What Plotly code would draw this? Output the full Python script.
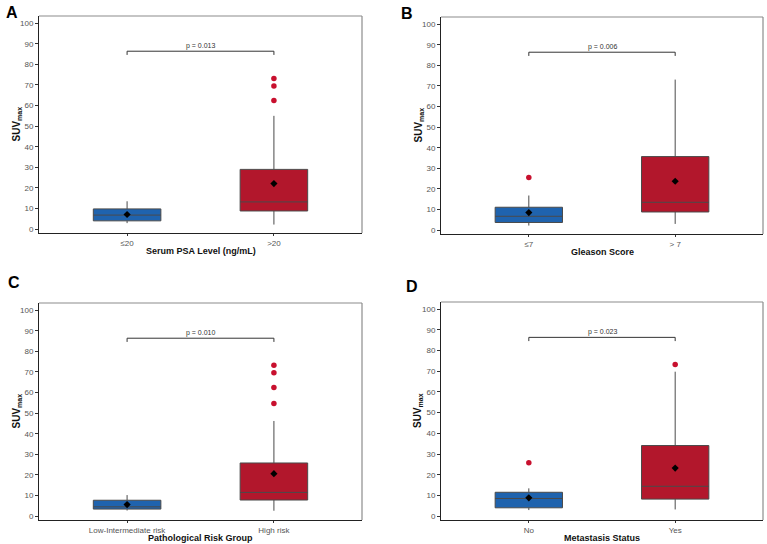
import plotly.graph_objects as go

# ---------------- data ----------------
panel_letters = ["A", "B", "C", "D"]
x_titles = ["Serum PSA Level (ng/mL)", "Gleason Score", "Pathological Risk Group", "Metastasis Status"]
categories = [["≤20", ">20"], ["≤7", "> 7"], ["Low-Intermediate risk", "High risk"], ["No", "Yes"]]
q1_vals = [[4.0, 8.8], [3.7, 8.8], [3.4, 7.8], [4.0, 8.2]]
median_vals = [[6.8, 13.2], [6.7, 13.5], [4.5, 11.5], [8.5, 14.4]]
q3_vals = [[9.8, 29.0], [11.1, 35.7], [7.7, 25.8], [11.5, 34.1]]
lower_whisker = [[2.9, 2.2], [2.2, 3.0], [2.7, 2.6], [2.9, 3.2]]
upper_whisker = [[13.5, 55.0], [16.8, 73.1], [10.2, 46.2], [13.4, 69.8]]
mean_vals = [[7.1, 22.1], [8.5, 23.7], [5.6, 20.6], [8.8, 23.2]]
outliers = [[[], [62.4, 69.5, 73.2]],
            [[25.6], []],
            [[], [54.7, 62.4, 69.6, 73.3]],
            [[25.8], [73.3]]]
p_labels = ["p = 0.013", "p = 0.006", "p = 0.010", "p = 0.023"]
y_ticks = list(range(0, 101, 10))

# ---------------- style ----------------
W, H = 767, 544
box_colors = ["#1F63AE", "#B2172C"]
outlier_color = "#C8102E"
FONT = "Liberation Sans, Arial, sans-serif"

# panel plot-area rectangles in pixels (left, top, right, bottom)
rects = [(39, 16, 362, 233), (441, 17, 763, 234), (39, 303, 362, 520), (441, 302, 763, 520)]
letter_pos = [(4, 2), (399, 3), (6, 272), (404, 276)]

fig = go.Figure()
layout = dict(
    width=W, height=H, margin=dict(l=0, r=0, t=0, b=0),
    paper_bgcolor="white", plot_bgcolor="white", showlegend=False,
    font=dict(family=FONT, color="#4d4d4d"),
    annotations=[], shapes=[],
)

for i in range(4):
    xa = "x" if i == 0 else f"x{i+1}"
    ya = "y" if i == 0 else f"y{i+1}"
    xkey = "xaxis" if i == 0 else f"xaxis{i+1}"
    ykey = "yaxis" if i == 0 else f"yaxis{i+1}"
    l, t, r, b = rects[i]
    layout[xkey] = dict(
        domain=[l / W, r / W], anchor=ya, range=[0.4, 2.6],
        tickmode="array", tickvals=[1, 2], ticktext=categories[i],
        showgrid=False, zeroline=False, showline=True, linecolor="#222222", linewidth=1,
        ticks="outside", ticklen=2, tickcolor="#333333",
        tickfont=dict(size=8, color="#555555", family=FONT),
    )
    layout[ykey] = dict(
        domain=[1 - b / H, 1 - t / H], anchor=xa, range=[-1.9, 103.5],
        tickmode="array", tickvals=y_ticks,
        showgrid=False, zeroline=False, showline=True, linecolor="#222222", linewidth=1,
        ticks="outside", ticklen=3, tickcolor="#333333",
        tickfont=dict(size=8, color="#555555", family=FONT),
    )
    # top/right border in grey
    layout["shapes"].append(dict(type="line", xref=f"{xa} domain", yref=f"{ya} domain",
                                 x0=0, x1=1, y0=1, y1=1, line=dict(color="#8c8c8c", width=1.2)))
    layout["shapes"].append(dict(type="line", xref=f"{xa} domain", yref=f"{ya} domain",
                                 x0=1, x1=1, y0=0, y1=1, line=dict(color="#8c8c8c", width=1.2)))

    for j in range(2):
        fig.add_trace(go.Box(
            x=[j + 1], q1=[q1_vals[i][j]], median=[median_vals[i][j]], q3=[q3_vals[i][j]],
            lowerfence=[lower_whisker[i][j]], upperfence=[upper_whisker[i][j]],
            width=0.46, whiskerwidth=0, fillcolor=box_colors[j],
            line=dict(color="#4a4a4a", width=1), boxpoints=False,
            xaxis=xa, yaxis=ya, hoverinfo="skip",
        ))
        if outliers[i][j]:
            fig.add_trace(go.Scatter(
                x=[j + 1] * len(outliers[i][j]), y=outliers[i][j], mode="markers",
                marker=dict(color=outlier_color, size=5.5), xaxis=xa, yaxis=ya, hoverinfo="skip",
            ))
    fig.add_trace(go.Scatter(
        x=[1, 2], y=mean_vals[i], mode="markers",
        marker=dict(color="black", size=5.5, symbol="diamond"), xaxis=xa, yaxis=ya, hoverinfo="skip",
    ))
    # significance bracket
    fig.add_trace(go.Scatter(
        x=[1, 1, 2, 2], y=[84.6, 86.4, 86.4, 84.6], mode="lines",
        line=dict(color="#333333", width=1), xaxis=xa, yaxis=ya, hoverinfo="skip",
    ))
    layout["annotations"].append(dict(
        x=1.5, y=86.4, xref=xa, yref=ya, text=p_labels[i], showarrow=False,
        yanchor="bottom", yshift=-1, font=dict(size=7, color="#333333", family=FONT),
    ))
    # axis titles
    layout["annotations"].append(dict(
        x=(l - 23) / W, y=1 - (t + b) / 2 / H, xref="paper", yref="paper",
        text="<b>SUV<sub>max</sub></b>", textangle=-90, showarrow=False,
        xanchor="center", yanchor="middle", font=dict(size=10, color="#111111", family=FONT),
    ))
    layout["annotations"].append(dict(
        x=(l + r) / 2 / W, y=1 - (b + 18) / H, xref="paper", yref="paper",
        text=f"<b>{x_titles[i]}</b>", showarrow=False,
        xanchor="center", yanchor="middle", font=dict(size=9, color="#111111", family=FONT),
    ))
    # panel letter
    lx, ly = letter_pos[i]
    layout["annotations"].append(dict(
        x=lx / W, y=1 - ly / H, xref="paper", yref="paper", text=f"<b>{panel_letters[i]}</b>",
        showarrow=False, xanchor="left", yanchor="top", font=dict(size=16, color="black", family=FONT),
    ))

fig.update_layout(**layout)
fig.write_html("out.html")
